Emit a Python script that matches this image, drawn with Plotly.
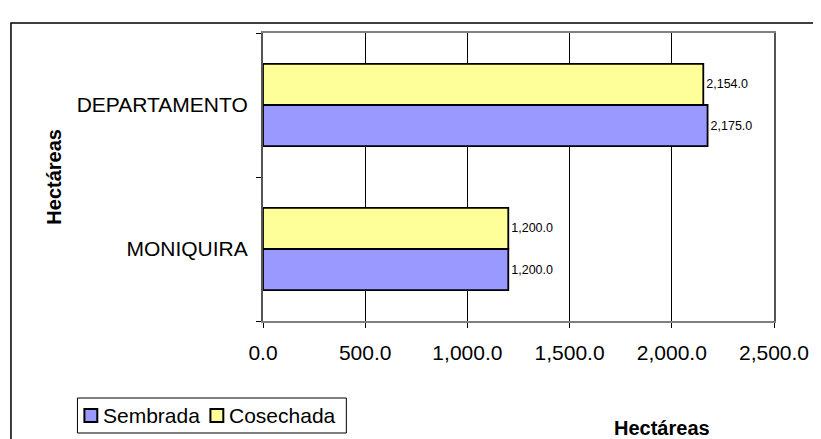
import plotly.graph_objects as go

categories = ["MONIQUIRA", "DEPARTAMENTO"]
sembrada = [1200.0, 2175.0]
cosechada = [1200.0, 2154.0]
x_ticks = [0, 500, 1000, 1500, 2000, 2500]
series_names = ["Sembrada", "Cosechada"]
series_colors = ["#9999FF", "#FFFF99"]

OFF = 8  # page body margin
W, H = 821 - OFF, 439 - OFF
# plot area in screen pixels
L, R, T, B = 263, 778, 33, 321
pw, ph = R - L, B - T


def px(x):
    return (x - L) / pw


def py(y):
    return (B - y) / ph


font = "Liberation Sans, Arial, sans-serif"
FS = 21

fig = go.Figure()
for name, vals, col in zip(series_names, [sembrada, cosechada], series_colors):
    fig.add_trace(go.Bar(
        y=categories, x=vals, orientation="h", name=name,
        marker=dict(color=col, line=dict(color="black", width=1.8)),
        texttemplate="%{x:,.1f}", textposition="outside",
        textfont=dict(size=12.5, color="black", family=font), cliponaxis=False,
    ))

fig.update_layout(
    width=W, height=H,
    margin=dict(l=L - OFF, r=W - (R - OFF), t=T - OFF, b=H - (B - OFF)),
    paper_bgcolor="white", plot_bgcolor="white",
    barmode="group", bargap=0.43, bargroupgap=0,
    font=dict(family=font, size=FS, color="black"),
    showlegend=False,
)

fig.update_xaxes(
    range=[0, 2500], tickvals=x_ticks, tickformat=",.1f",
    showgrid=True, gridcolor="black", gridwidth=1,
    showline=True, linecolor="#808080", linewidth=2, mirror=True,
    ticks="outside", ticklen=5, tickcolor="black",
    ticklabelstandoff=7, zeroline=False,
    tickfont=dict(size=FS, family=font),
)
fig.update_yaxes(
    categoryorder="array", categoryarray=categories,
    showgrid=False,
    showline=True, linecolor="#555555", linewidth=2, mirror=True,
    ticks="outside", ticklen=5, tickcolor="black", tickson="boundaries",
    ticklabelstandoff=9,
    tickfont=dict(size=FS, family=font),
)

# outer chart frame
fig.add_shape(type="rect", xref="paper", yref="paper",
              x0=px(9), x1=px(840), y0=py(460), y1=py(23),
              line=dict(color="black", width=1.5), fillcolor="rgba(0,0,0,0)", layer="below")

# axis titles
fig.add_annotation(text="<b>Hectáreas</b>", xref="paper", yref="paper",
                   x=px(665), y=py(428), xanchor="center", yanchor="middle",
                   showarrow=False, font=dict(size=20, family=font))
fig.add_annotation(text="<b>Hectáreas</b>", xref="paper", yref="paper",
                   x=px(52), y=py(177), xanchor="center", yanchor="middle",
                   showarrow=False, textangle=-90,
                   font=dict(size=20, family=font))

# legend (drawn manually to match the compact layout)
fig.add_shape(type="rect", xref="paper", yref="paper",
              x0=px(76), x1=px(347), y0=py(433), y1=py(398),
              line=dict(color="black", width=1), fillcolor="white")
leg_sq = [83, 210]
leg_tx = [100, 227]
for name, col, sx, tx in zip(series_names, series_colors, leg_sq, leg_tx):
    fig.add_shape(type="rect", xref="paper", yref="paper",
                  x0=px(sx), x1=px(sx + 13), y0=py(422), y1=py(409),
                  line=dict(color="black", width=2), fillcolor=col)
    fig.add_annotation(text=name, xref="paper", yref="paper",
                       x=px(tx), y=py(415.5), xanchor="left", yanchor="middle",
                       showarrow=False, font=dict(size=FS, family=font))

fig.write_html("out.html")
